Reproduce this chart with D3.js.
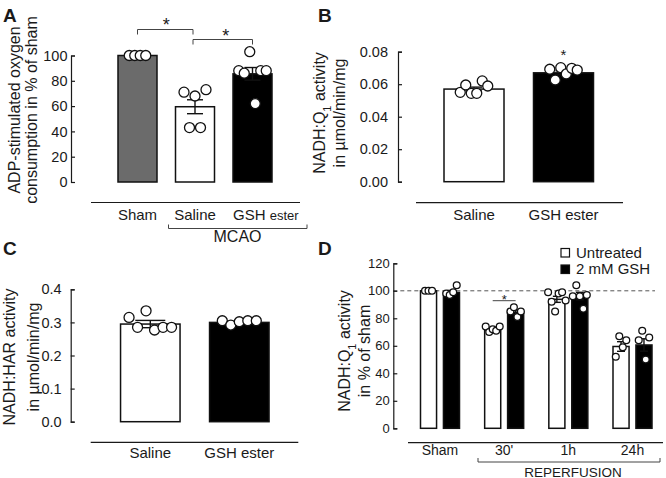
<!DOCTYPE html>
<html>
<head>
<meta charset="utf-8">
<script src="https://cdn.jsdelivr.net/npm/d3@7"></script>
<style>
	body { margin: 0; background: #fff; }
	svg { display: block; font-family: "Liberation Sans", Arial, sans-serif; }
	text { fill: #1a1a1a; }
</style>
</head>
<body>
<div id="chart"></div>
<script>
// panel A - oxygen consumption
const groupsA = ["Sham", "Saline", "GSH ester"];
const meansA = [100, 59.5, 85.5];
const semA = [0, 5.5, 5];
const dotsA = [[100, 100, 100, 100], [71, 43, 68, 43, 73], [88, 86, 103, 62, 88, 88]];
const ticksA = [0, 20, 40, 60, 80, 100];

// panel B - NADH:Q1
const groupsB = ["Saline", "GSH ester"];
const meansB = [0.057, 0.067];
const semB = [0.0012, 0.0012];
const dotsB = [[0.055, 0.0595, 0.0544, 0.0544, 0.062, 0.0589], [0.0692, 0.0626, 0.0702, 0.0663, 0.0698, 0.0687]];
const ticksB = [0, 0.02, 0.04, 0.06, 0.08];

// panel C - NADH:HAR
const groupsC = ["Saline", "GSH ester"];
const meansC = [0.295, 0.300];
const semC = [0.011, 0.003];
const dotsC = [[0.315, 0.285, 0.335, 0.277, 0.285, 0.285], [0.305, 0.292, 0.302, 0.305, 0.305]];
const ticksC = [0, 0.1, 0.2, 0.3, 0.4];

// panel D - reperfusion time course
const groupsD = ["Sham", "30'", "1h", "24h"];
const seriesD = ["Untreated", "2 mM GSH"];
const untreatedD = [100, 71.5, 93.8, 59.5];
const gshD = [98.8, 84.4, 96.2, 60.6];
const semUntreatedD = [0, 1.2, 2.2, 3.5];
const semGshD = [1.5, 1.6, 2.7, 4.5];
const dotsUntreatedD = [[100, 100, 100], [74, 70, 72, 71, 74], [99, 92, 85, 98, 99, 93], [52, 67, 59, 64]];
const dotsGshD = [[98, 97, 99, 104], [85, 88, 81, 85], [96, 104, 96, 87, 97], [64, 71, 50, 66]];
const ticksD = [0, 20, 40, 60, 80, 100, 120];

const ink = '#1a1a1a';
const font = '"Liberation Sans", Arial, sans-serif';

const svg = d3.select('#chart').append('svg')
	.attr('width', 666)
	.attr('height', 478);

function yAxis(y, ticks, xPos, fmt, size, pad) {
	const g = svg.append('g')
		.attr('transform', `translate(${xPos},0)`)
		.call(d3.axisLeft(y).tickValues(ticks).tickFormat(fmt).tickSize(-4).tickPadding(pad));
	g.attr('font-family', font).attr('font-size', size);
	g.select('.domain').attr('stroke', ink).attr('stroke-width', 1.2);
	g.selectAll('.tick line').attr('stroke', ink).attr('stroke-width', 1.2);
	g.selectAll('.tick text').attr('fill', ink);
}

function bars(y, list, r, step, capW) {
	const g = svg.append('g');
	g.selectAll('rect').data(list).enter()
		.append('rect')
		.attr('x', d => d.cx - d.w / 2)
		.attr('y', d => y(d.mean))
		.attr('width', d => d.w)
		.attr('height', d => y(0) - y(d.mean))
		.attr('fill', d => d.fill)
		.attr('stroke', '#111')
		.attr('stroke-width', 1.5);

	// error bars (mean +- sem)
	const eb = g.selectAll('g.err').data(list.filter(d => d.sem > 0)).enter()
		.append('g').attr('class', 'err')
		.attr('stroke', '#111').attr('stroke-width', 1.4);
	eb.append('line')
		.attr('x1', d => d.cx).attr('x2', d => d.cx)
		.attr('y1', d => y(d.mean - d.sem)).attr('y2', d => y(d.mean + d.sem));
	[-1, 1].forEach(s => {
		eb.append('line')
			.attr('x1', d => d.cx - capW / 2).attr('x2', d => d.cx + capW / 2)
			.attr('y1', d => y(d.mean + s * d.sem)).attr('y2', d => y(d.mean + s * d.sem));
	});

	// individual values, spread left to right in reading order
	list.forEach(d => {
		const n = d.dots.length;
		g.selectAll(null).data(d.dots).enter()
			.append('circle')
			.attr('cx', (v, i) => d.cx + (i - (n - 1) / 2) * step)
			.attr('cy', v => y(v))
			.attr('r', r)
			.attr('fill', 'white')
			.attr('stroke', '#111')
			.attr('stroke-width', 1.3);
	});
}

function label(x, y, txt, size, anchor) {
	return svg.append('text')
		.attr('x', x).attr('y', y)
		.attr('font-size', size)
		.attr('text-anchor', anchor || 'middle')
		.text(txt);
}

function yTitle(lines, xs, cy) {
	lines.forEach((t, i) => {
		svg.append('text')
			.attr('transform', `translate(${xs[i]},${cy}) rotate(-90)`)
			.attr('text-anchor', 'middle')
			.attr('dy', '0.35em')
			.attr('font-size', 16)
			.html(t);
	});
}

function hline(x1, x2, y, w, color) {
	svg.append('line')
		.attr('x1', x1).attr('x2', x2).attr('y1', y).attr('y2', y)
		.attr('stroke', color || ink).attr('stroke-width', w || 1.2);
}

function bracket(x1, x2, y, h, dir) {
	svg.append('path')
		.attr('d', `M${x1},${y + dir * h}V${y}H${x2}V${y + dir * h}`)
		.attr('fill', 'none').attr('stroke', '#444').attr('stroke-width', 1);
}

const sub1 = 'Q<tspan baseline-shift="sub" font-size="11">1</tspan>';

// ---------------- A
const yA = d3.scaleLinear().domain([0, 100]).range([182, 55.5]);
const xA = d3.scalePoint().domain(groupsA).range([137.5, 252.5]);
const bwA = 39;
const fillsA = ['#6b6b6b', 'white', 'black'];
bars(yA, groupsA.map((g, i) => ({cx: xA(g), w: bwA, mean: meansA[i], sem: semA[i], dots: dotsA[i], fill: fillsA[i]})), 5, 5.5, 16);
yAxis(yA, ticksA, 71, d3.format('d'), 14.5, 3.5);
yTitle(['ADP-stimulated oxygen', 'consumption in % of sham'], [14, 31], 110);

hline(91, 300, 202.5);
label(xA('Sham'), 220, 'Sham', 15);
label(xA('Saline'), 220, 'Saline', 15);
const gshA = label(xA('GSH ester') - bwA / 2, 220, 'GSH ', 15, 'start');
gshA.append('tspan').attr('font-size', 13).text('ester');
bracket(xA('Saline') - bwA / 2 - 7, 307, 228.5, -4, 1);
label(237.5, 241.5, 'MCAO', 16);

// significance brackets
bracket(xA('Sham'), xA('Saline') - 2, 29.5, 5, 1);
bracket(xA('Saline') - 2, xA('GSH ester'), 39.5, 5, 1);
label((xA('Sham') + xA('Saline')) / 2, 31, '*', 18);
label((xA('Saline') + xA('GSH ester')) / 2 + 2, 42, '*', 18);

// ---------------- B
const yB = d3.scaleLinear().domain([0, 0.08]).range([181.7, 51.7]);
const xB = d3.scalePoint().domain(groupsB).range([474, 563.5]);
const fillsBC = ['white', 'black'];
bars(yB, groupsB.map((g, i) => ({cx: xB(g), w: 60, mean: meansB[i], sem: semB[i], dots: dotsB[i], fill: fillsBC[i]})), 5, 5.5, 16);
yAxis(yB, ticksB, 398, d3.format('.2f'), 14.5, 10);
yTitle(['NADH:' + sub1 + ' activity', 'in \u00b5mol/min/mg'], [319, 339], 113);
hline(416, 623, 202.7);
groupsB.forEach(g => label(xB(g), 220, g, 15));
label(xB('GSH ester'), 60, '*', 15);

// ---------------- C
const yC = d3.scaleLinear().domain([0, 0.4]).range([421.7, 289.3]);
const xC = d3.scalePoint().domain(groupsC).range([150.3, 239.3]);
bars(yC, groupsC.map((g, i) => ({cx: xC(g), w: 59.5, mean: meansC[i], sem: semC[i], dots: dotsC[i], fill: fillsBC[i]})), 5, 8.5, 30);
yAxis(yC, ticksC, 70.7, d3.format('.1f'), 14.5, 9);
yTitle(['NADH:HAR activity', 'in \u00b5mol/min/mg'], [9.5, 33], 357);
hline(90.7, 298.3, 442.3);
groupsC.forEach(g => label(xC(g), 458, g, 15));

// ---------------- D
const yD = d3.scaleLinear().domain([0, 120]).range([428.3, 263.3]);
const xD = d3.scalePoint().domain(groupsD).range([440, 632.5]);
const subD = d3.scaleBand().domain(seriesD).range([-19.5, 19.5]).paddingInner(0.3);

svg.append('line')
	.attr('x1', 393.3).attr('x2', 655)
	.attr('y1', yD(100)).attr('y2', yD(100))
	.attr('stroke', '#555').attr('stroke-width', 1).attr('stroke-dasharray', '4,3');

const listD = [];
groupsD.forEach((g, i) => {
	listD.push({cx: xD(g) + subD('Untreated') + subD.bandwidth() / 2, w: subD.bandwidth(), mean: untreatedD[i], sem: semUntreatedD[i], dots: dotsUntreatedD[i], fill: 'white'});
	listD.push({cx: xD(g) + subD('2 mM GSH') + subD.bandwidth() / 2, w: subD.bandwidth(), mean: gshD[i], sem: semGshD[i], dots: dotsGshD[i], fill: 'black'});
});
bars(yD, listD, 3.4, 3.5, 8);
yAxis(yD, ticksD, 393.3, d3.format('d'), 13, 3.5);
yTitle(['NADH:' + sub1 + ' activity', 'in % of sham'], [344, 364], 351);

hline(408, 663, 442.7);
groupsD.forEach(g => label(xD(g), 455, g, 14));
bracket(478, 660, 462, -4, 1);
label(573, 476.5, 'REPERFUSION', 13.5);

// 30' comparison
const c30 = xD("30'");
hline(c30 + subD('Untreated') + subD.bandwidth() / 2, c30 + subD('2 mM GSH') + subD.bandwidth() / 2, 300.7, 1, '#444');
label(c30, 303.5, '*', 13);

// legend
seriesD.forEach((s, i) => {
	svg.append('rect')
		.attr('x', 561).attr('y', 248.5 + i * 16.5)
		.attr('width', 8.5).attr('height', 8.5)
		.attr('fill', i ? 'black' : 'white')
		.attr('stroke', '#111').attr('stroke-width', 1.2);
	label(576, 257.5 + i * 16.5, s, 15, 'start');
});

// panel letters
[['A', 3, 22], ['B', 318, 22], ['C', 3, 255], ['D', 318, 255]].forEach(p => {
	label(p[1], p[2], p[0], 19, 'start').attr('font-weight', 'bold');
});
</script>
</body>
</html>
